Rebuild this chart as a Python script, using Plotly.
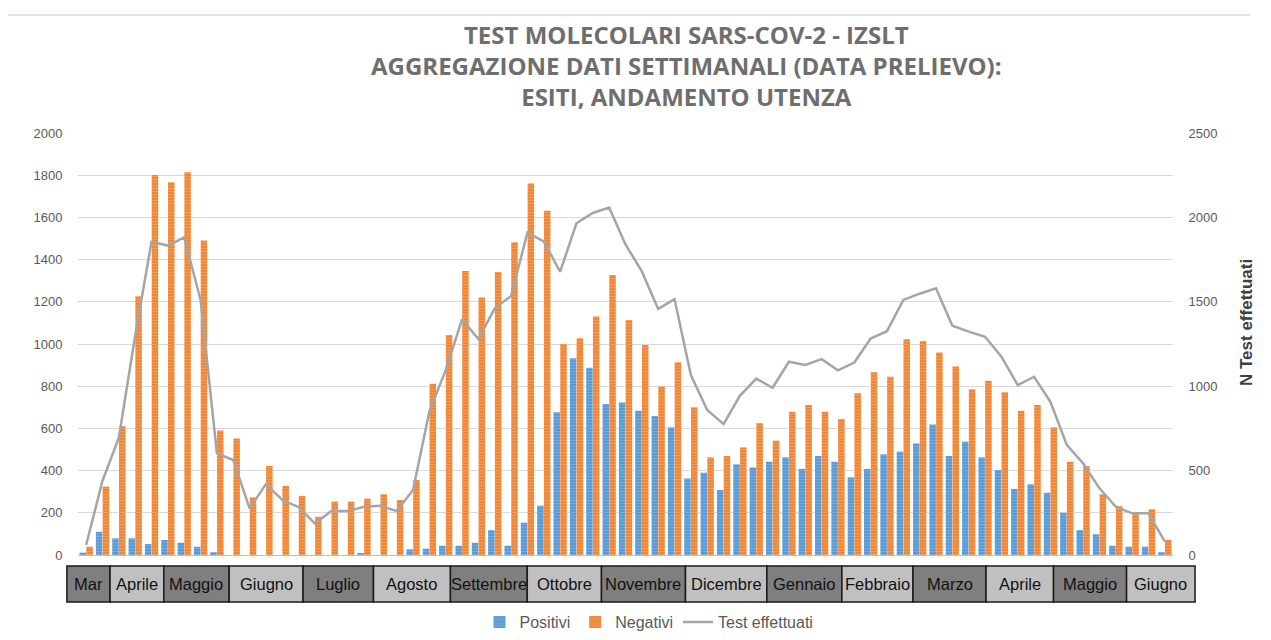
import plotly.graph_objects as go

# ---------------- data ----------------
weeks = list(range(1, 68))

positivi = [11, 110, 79, 79, 52, 71, 58, 39, 13, 0, 0, 0, 0, 0, 0, 0, 0, 8, 0, 0,
            27, 30, 44, 44, 58, 118, 44, 153, 234, 676, 932, 888, 716, 723, 684, 659, 605,
            363, 390, 308, 430, 415, 442, 463, 408, 469, 442, 368, 408, 477, 490, 529,
            619, 469, 537, 463, 403, 313, 335, 295, 200, 118, 98, 44, 39, 39, 13]

negativi = [39, 324, 610, 1226, 1801, 1767, 1814, 1491, 590, 552, 273, 422, 327, 280,
            181, 253, 253, 267, 288, 261, 355, 812, 1043, 1346, 1220, 1341, 1482, 1761,
            1632, 1000, 1027, 1130, 1327, 1114, 995, 798, 913, 700, 463, 469, 510, 624,
            542, 679, 711, 679, 644, 766, 866, 845, 1022, 1014, 960, 893, 785, 826, 771,
            684, 711, 605, 442, 422, 288, 232, 198, 217, 71]

test_effettuati = [59, 440, 695, 1300, 1856, 1833, 1882, 1511, 602, 563, 276, 420, 326,
                   283, 186, 260, 260, 286, 292, 260, 385, 850, 1095, 1396, 1280, 1461,
                   1535, 1910, 1858, 1678, 1965, 2026, 2058, 1840, 1680, 1458, 1516, 1066,
                   859, 775, 943, 1045, 991, 1145, 1126, 1160, 1094, 1140, 1282, 1326,
                   1511, 1548, 1580, 1358, 1323, 1293, 1175, 1007, 1056, 908, 652, 543,
                   395, 286, 247, 247, 79]

# month band: labels and boundaries expressed in week units
mesi = ["Mar", "Aprile", "Maggio", "Giugno", "Luglio", "Agosto", "Settembre", "Ottobre",
        "Novembre", "Dicembre", "Gennaio", "Febbraio", "Marzo", "Aprile", "Maggio", "Giugno"]
confini_mesi = [-0.18, 2.46, 5.75, 9.75, 14.27, 18.58, 23.29, 27.99, 32.53, 37.67, 42.65,
                47.24, 51.59, 56.06, 60.19, 64.66, 68.85]

title_lines = ["TEST MOLECOLARI SARS-COV-2 - IZSLT",
               "AGGREGAZIONE DATI SETTIMANALI (DATA PRELIEVO):",
               "ESITI, ANDAMENTO UTENZA"]

left_ticks = list(range(0, 2001, 200))
right_ticks = list(range(0, 2501, 500))

# ---------------- layout geometry ----------------
# page body has an 8px margin: the figure is sized to fit inside the window
W, H = 1255, 624
OFF = 8
PL, PT, PW, PH = 70, 125, 1095, 422          # plot area in figure pixels
X_RANGE = [0.5, 67.5]


def px(xr):   # window pixel -> paper x
    return (xr - OFF - PL) / PW


def py(yr):   # window pixel -> paper y
    return (PT + PH - (yr - OFF)) / PH


fig = go.Figure()

fig.add_trace(go.Bar(
    x=weeks, y=positivi, name="Positivi",
    marker=dict(color="#5B9BD5", line=dict(width=0),
                pattern=dict(shape="-", bgcolor="#5B9BD5", fgcolor="#8DBCE6",
                             size=3, solidity=0.3)),
))
fig.add_trace(go.Bar(
    x=weeks, y=negativi, name="Negativi",
    marker=dict(color="#ED7D31", line=dict(width=0),
                pattern=dict(shape="-", bgcolor="#F08636", fgcolor="#F7B27F",
                             size=3, solidity=0.3)),
))
fig.add_trace(go.Scatter(
    x=weeks, y=test_effettuati, name="Test effettuati", yaxis="y2",
    mode="lines", line=dict(color="#A5A5A5", width=2.5),
))

tick_font = dict(family="Liberation Sans, Arial, sans-serif", size=13, color="#595959")

fig.update_layout(
    width=W, height=H,
    margin=dict(l=PL, r=W - PL - PW, t=PT, b=H - PT - PH, autoexpand=False),
    paper_bgcolor="white", plot_bgcolor="white",
    barmode="group", bargap=0.17, bargroupgap=0.04,
    showlegend=True,
    legend=dict(orientation="h", x=px(649), xanchor="center", y=py(622), yanchor="middle",
                font=dict(family="Liberation Sans, Arial, sans-serif", size=16, color="#595959"),
                traceorder="normal"),
    xaxis=dict(range=X_RANGE, showticklabels=False, showgrid=False, zeroline=False,
               showline=True, linecolor="#BFBFBF", linewidth=1, ticks=""),
    yaxis=dict(range=[0, 2000], tickvals=left_ticks, showgrid=True, gridcolor="#D9D9D9",
               gridwidth=1, zeroline=False, showline=False, ticks="outside", ticklen=12,
               tickcolor="rgba(0,0,0,0)", tickfont=tick_font),
    yaxis2=dict(range=[0, 2500], tickvals=right_ticks, overlaying="y", side="right",
                showgrid=False, zeroline=False, showline=False, ticks="outside", ticklen=12,
                tickcolor="rgba(0,0,0,0)", tickfont=tick_font),
)

# Title (one text block, three lines)
fig.add_annotation(
    text="<br>".join(title_lines), xref="paper", yref="paper", x=px(686), y=py(66),
    xanchor="center", yanchor="middle", showarrow=False, align="center",
    font=dict(family="Open Sans, sans-serif", size=24, color="#6E6E6E", weight="bold"),
)

# right axis title
fig.add_annotation(
    text="<b>N Test effettuati</b>", xref="paper", yref="paper", x=px(1246), y=py(323),
    xanchor="center", yanchor="middle", textangle=-90, showarrow=False,
    font=dict(family="Liberation Sans, Arial, sans-serif", size=17, color="#404040"),
)

# chart frame (top border)
fig.add_shape(type="line", xref="paper", yref="paper",
              x0=px(8), x1=px(1250), y0=py(15), y1=py(15),
              line=dict(color="#D9D9D9", width=1.5))

# month band under the axis
span = X_RANGE[1] - X_RANGE[0]
band_top = py(566)
band_bot = py(602)
for i, m in enumerate(mesi):
    x0 = (confini_mesi[i] - X_RANGE[0]) / span
    x1 = (confini_mesi[i + 1] - X_RANGE[0]) / span
    fill = "#7F7F7F" if i % 2 == 0 else "#C0C0C0"
    fig.add_shape(type="rect", xref="paper", yref="paper", x0=x0, x1=x1,
                  y0=band_bot, y1=band_top, fillcolor=fill,
                  line=dict(color="#1A1A1A", width=1.5), layer="above")
    fig.add_annotation(text=m, xref="paper", yref="paper", x=(x0 + x1) / 2,
                       y=(band_top + band_bot) / 2, xanchor="center", yanchor="middle",
                       showarrow=False,
                       font=dict(family="Liberation Sans, Arial, sans-serif", size=16.5,
                                 color="#111111"))

fig.write_html("out.html")
